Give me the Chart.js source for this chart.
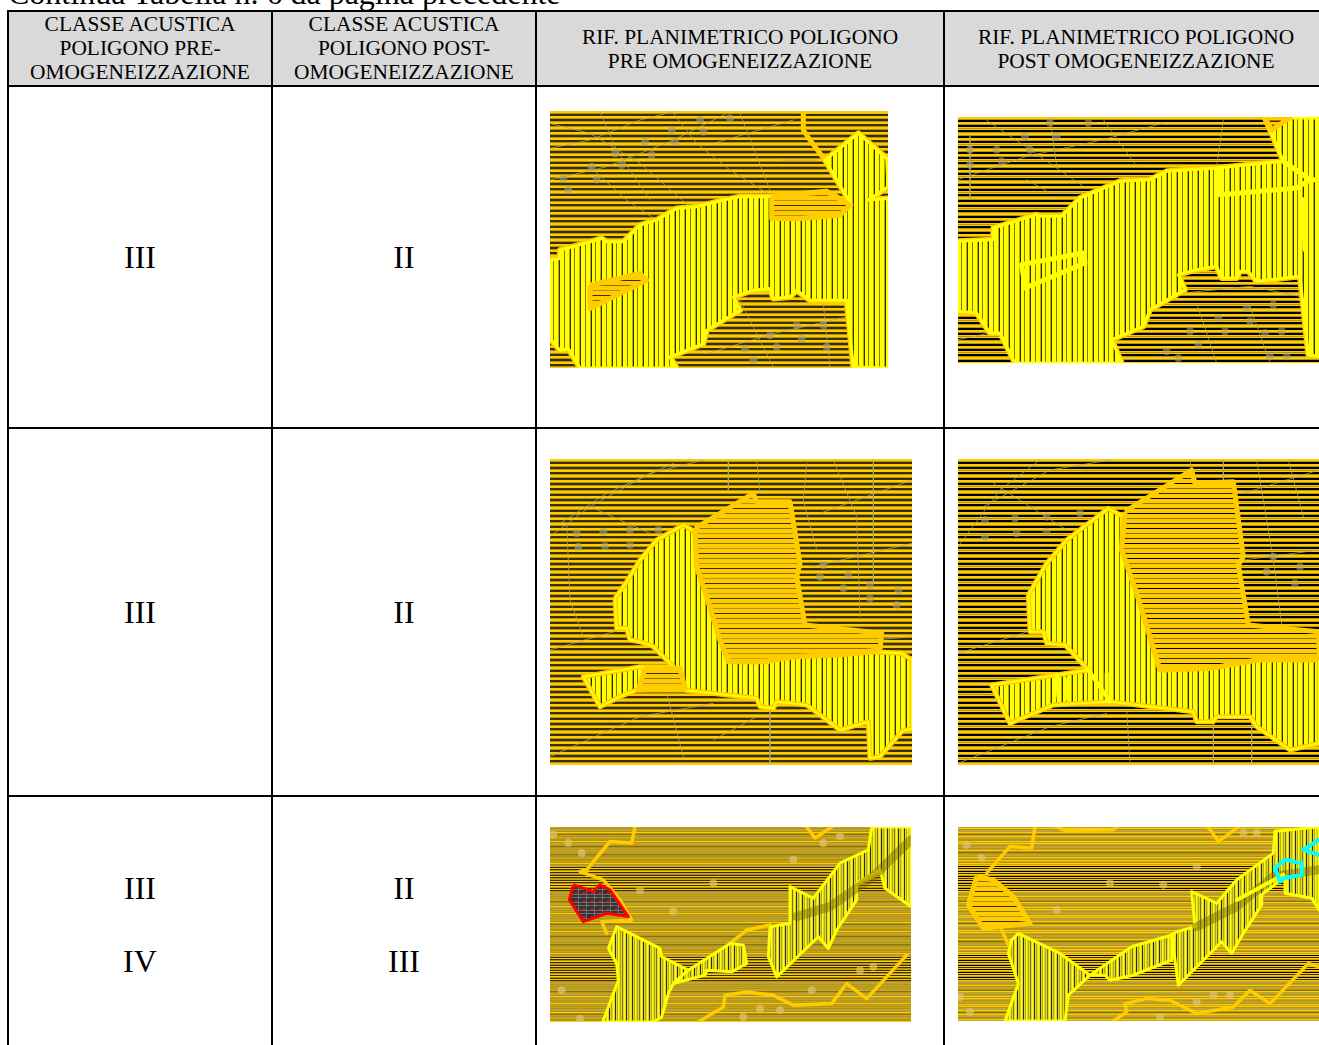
<!DOCTYPE html>
<html>

<head>
    <title>Continua Tabella n. 6</title>
    <script src="https://cdn.jsdelivr.net/npm/chart.js"></script>
    <style>
        html, body {
            margin: 0;
            width: 1319px;
            height: 1045px;
            overflow: hidden;
            background: white;
            font-family: 'Liberation Serif', 'Times New Roman', serif;
            color: #000;
        }

        #caption {
            position: absolute;
            left: 8px;
            top: -23px;
            font-size: 32px;
            line-height: 32px;
            white-space: nowrap;
        }

        table {
            position: absolute;
            left: 7px;
            top: 10px;
            border-collapse: collapse;
            table-layout: fixed;
            width: 1320px;
        }

        td, th {
            border: 2px solid #000;
            padding: 0;
            text-align: center;
            vertical-align: middle;
            font-weight: normal;
        }

        th {
            background: #d9d9d9;
            font-size: 21.4px;
            line-height: 24px;
            height: 73px;
        }

        th.tall {
            padding-bottom: 1px;
            height: 72px;
        }

        td {
            font-size: 32px;
            line-height: 73px;
        }

        canvas {
            position: absolute;
        }
    </style>
</head>

<body>
    <div id="caption">Continua Tabella n. 6 da pagina precedente</div>
    <table>
        <colgroup>
            <col style="width:264px"><col style="width:264px"><col style="width:408px"><col style="width:384px">
        </colgroup>
        <thead><tr id="headRow"></tr></thead>
        <tbody id="rows"></tbody>
    </table>

    <canvas id="map1"></canvas>
    <canvas id="map2"></canvas>
    <canvas id="map3"></canvas>
    <canvas id="map4"></canvas>
    <canvas id="map5"></canvas>
    <canvas id="map6"></canvas>

    <script>
        const headers = [
            'CLASSE ACUSTICA<br>POLIGONO PRE-<br>OMOGENEIZZAZIONE',
            'CLASSE ACUSTICA<br>POLIGONO POST-<br>OMOGENEIZZAZIONE',
            'RIF. PLANIMETRICO POLIGONO<br>PRE OMOGENEIZZAZIONE',
            'RIF. PLANIMETRICO POLIGONO<br>POST OMOGENEIZZAZIONE'
        ];
        const classPre = [['III'], ['III'], ['III', 'IV']];
        const classPost = [['II'], ['II'], ['II', 'III']];

        // map outlines
        const map1Yellow = [[30,480],[60,475],[60,450],[150,425],[185,415],[200,425],[250,425],[300,375],[350,360],[410,325],[470,320],[550,300],[600,290],[690,290],[860,275],[935,315],[855,180],[955,100],[1040,175],[1044,260],[985,300],[1044,295],[1044,803],[940,800],[920,600],[810,600],[770,570],[750,590],[700,595],[690,565],[640,570],[580,590],[600,630],[500,690],[490,730],[390,770],[410,803],[120,803],[85,745],[60,750],[30,715]];
        const map1Holes = [[[695,290],[860,275],[930,315],[900,345],[780,355],[695,355]], [[150,555],[300,520],[320,540],[150,625]]];
        const map1Edge = [[790,35],[790,90],[810,120],[855,180]];
        const map1Top = [[790,35],[1044,35]];
        const map1Web = [[[30,145],[150,120],[300,60],[400,35]], [[30,240],[200,200],[400,120],[560,40]], [[150,200],[260,300],[350,360]], [[400,40],[470,130],[570,210],[700,290]], [[180,35],[230,150],[330,300]], [[30,70],[150,100],[300,190],[450,320]], [[600,600],[700,800]], [[850,610],[870,800]], [[500,760],[700,700],[920,650]], [[600,40],[690,270]], [[720,180],[830,180]], [[520,130],[760,60]]];
        const map1Blobs = [[570,55],[480,60],[395,90],[490,95],[315,125],[405,125],[225,160],[335,165],[155,200],[245,195],[70,235],[170,238],[85,270],[690,705],[785,715],[770,675],[850,675],[615,745],[710,740],[860,740],[640,780]];

        const map2Yellow = [[24,425],[130,420],[130,385],[260,345],[270,350],[335,350],[390,295],[510,245],[600,240],[650,215],[800,205],[1000,185],[960,90],[945,55],[1107,55],[1107,770],[1075,765],[1050,530],[920,545],[895,515],[870,515],[860,535],[815,535],[800,500],[740,510],[685,525],[705,570],[600,630],[580,680],[485,720],[515,790],[195,790],[150,700],[120,700],[80,640],[24,635]];
        const map2Inner = [[[215,495],[400,460],[405,490],[225,565],[215,495]], [[810,215],[810,285],[1040,265],[1080,240]], [[1000,185],[1080,240],[1107,240]], [[1060,300],[1065,450]]];
        const map2Cap = [[945,55],[1020,55],[965,90]];
        const map2Web = [[[24,240],[230,170],[460,120],[640,70]], [[60,110],[60,300]], [[100,55],[240,150],[400,260]], [[230,240],[300,280],[430,280]], [[300,55],[320,200]], [[460,60],[560,200]], [[820,60],[800,200]], [[24,720],[120,700]], [[700,580],[900,560],[1050,590]], [[740,610],[800,790]], [[900,620],[960,790]]];
        const map2Blobs = [[415,70],[300,70],[225,110],[320,110],[60,150],[140,150],[240,150],[155,185],[60,195],[890,625],[970,615],[805,655],[900,665],[720,695],[825,695],[945,700],[995,695],[745,735],[650,755],[960,770],[1010,770],[685,775]];

        const map3Yellow = [[225,445],[260,395],[300,330],[350,270],[430,225],[465,245],[470,350],[500,440],[540,570],[565,635],[680,635],[760,620],[900,615],[1000,605],[1085,610],[1116,630],[1116,835],[1085,845],[1020,920],[990,925],[985,815],[900,840],[800,765],[710,755],[700,775],[660,770],[650,745],[430,720],[290,720],[240,740],[180,770],[130,680],[300,650],[400,650],[340,590],[300,575],[270,570],[260,535],[230,535]];
        const map3Orange = [[465,235],[640,130],[650,155],[750,155],[780,340],[770,380],[795,525],[1025,550],[1020,600],[900,612],[760,620],[680,632],[565,632],[540,570],[500,440],[470,350]];
        const map3Small = [[315,655],[420,655],[435,715],[295,720]];
        const map3Web = [[[30,260],[150,170],[330,70],[490,30]], [[60,220],[200,130],[400,40]], [[150,170],[330,250]], [[565,30],[565,120]], [[650,30],[660,130]], [[800,40],[790,150],[830,300]], [[880,30],[950,200],[960,500]], [[1000,30],[1000,400]], [[30,600],[240,540]], [[30,920],[300,800],[520,760]], [[380,730],[430,920]], [[690,780],[690,940]], [[520,870],[650,800]], [[820,350],[1116,280]], [[1116,560],[1000,570]], [[80,220],[90,450],[130,560]], [[840,190],[1116,90]]];
        const map3Blobs = [[110,250],[190,245],[270,240],[355,240],[115,290],[195,288],[270,285],[850,345],[840,380],[925,375],[910,415],[990,405],[1075,420],[990,445],[1070,465]];

        const map4Yellow = [[235,435],[290,340],[350,270],[475,175],[520,200],[515,300],[560,430],[600,560],[630,660],[780,655],[920,630],[1107,630],[1107,880],[1020,900],[920,830],[900,800],[800,800],[790,815],[740,815],[730,785],[480,755],[310,765],[180,820],[125,705],[320,675],[415,660],[345,585],[290,580],[280,545],[240,545]];
        const map4Orange = [[525,185],[725,60],[735,100],[850,95],[880,320],[865,345],[895,525],[1107,545],[1107,625],[920,630],[780,655],[630,660],[600,560],[560,430],[515,300]];
        const map4Inner = [[[320,675],[325,740]], [[350,690],[350,745]], [[470,670],[470,750]], [[415,660],[480,755]]];
        const map4Web = [[[24,290],[150,120],[270,30]], [[100,170],[300,60],[480,30]], [[130,100],[350,240]], [[720,30],[730,100]], [[820,30],[820,100]], [[920,30],[970,330],[1000,560]], [[1015,30],[1060,200]], [[880,130],[1107,60]], [[24,610],[250,540]], [[24,940],[300,830],[470,790]], [[530,780],[540,940]], [[790,820],[790,940]], [[905,820],[905,940]], [[880,330],[1107,300]]];
        const map4Blobs = [[105,210],[195,205],[290,200],[390,190],[105,260],[200,250],[290,245],[970,320],[1050,350],[950,365],[1035,400]];

        const map5YellowA = [[205,385],[230,320],[360,385],[365,410],[445,450],[400,490],[385,520],[365,590],[340,605],[188,605],[235,480],[230,430]];
        const map5YellowB = [[445,450],[570,370],[610,375],[620,430],[575,455],[500,450],[495,465],[400,490]];
        const map5YellowC = [[690,320],[750,310],[750,200],[820,235],[900,130],[985,90],[995,22],[1113,22],[1113,260],[1035,205],[1020,150],[950,190],[950,240],[890,330],[865,385],[835,350],[710,470],[685,410]];
        const map5Red = [[100,195],[160,215],[180,195],[210,210],[265,290],[200,280],[130,305],[88,240]];
        const map5Edges = [[[285,22],[275,70],[210,65],[140,150],[120,155],[190,180],[240,240],[275,300],[185,305],[200,340]], [[475,605],[550,560],[555,525],[620,515],[700,525],[760,555],[875,550],[920,490],[980,535],[1100,405]], [[800,22],[825,55],[875,22]], [[1075,115],[1020,105],[900,220],[1070,135],[1075,115]], [[690,315],[620,330],[570,370]]];
        const map5Band = [[770,290],[870,260],[1000,170],[1113,60]];
        const map5Blobs = [[40,45],[85,70],[125,100],[65,510],[120,595],[760,120],[520,190],[400,275],[1000,440],[815,510],[660,565],[610,590],[720,570],[900,50],[850,70],[300,210],[960,450]];

        const map6YellowA = [[205,340],[330,400],[420,465],[355,525],[345,602],[165,602],[205,490],[175,400],[185,360]];
        const map6YellowB = [[420,465],[545,380],[665,345],[665,420],[600,445],[550,465],[480,480],[465,465]];
        const map6YellowC = [[680,335],[735,320],[725,215],[800,250],[860,180],[970,100],[975,35],[1107,22],[1107,270],[1085,235],[1005,220],[1005,170],[935,225],[935,255],[880,340],[845,400],[815,365],[685,495],[665,345]];
        const map6Pent = [[80,170],[130,180],[190,230],[240,310],[100,325],[55,255]];
        const map6Edges = [[[255,22],[245,85],[180,80],[110,160]], [[320,22],[345,32],[490,30],[500,22]], [[775,22],[805,65],[865,22]], [[490,602],[530,575],[525,550],[590,535],[660,540],[740,580],[850,560],[900,510],[960,550],[1075,430],[1107,440]], [[155,330],[175,375],[185,360]]];
        const map6Rail = [[860,240],[1000,165]];
        const map6Band = [[740,320],[860,260],[970,170],[1107,150]];
        const map6CyanA = [[975,145],[1005,120],[1055,130],[1055,165],[1000,175],[990,185],[975,145]];
        const map6CyanB = [[1107,60],[1060,90],[1107,105]];
        const map6Blobs = [[50,75],[95,115],[30,530],[60,575],[740,140],[640,195],[480,190],[320,270],[740,545],[840,525],[630,590],[790,525],[880,40],[920,40]];

        // row colours for the hatching, one letter per pixel
        const inks = { g: '#ffcc00', y: '#ffff00', b: '#b49410', k: '#3a2e00', n: '#000000', o: '#8a7400', c: '#c4a420', e: '#b8a450', v: '#b0b000', d: '#2c2c00', p: '#dcd438' };
        const hatchBrown = 'ggbkkggbkkbggkkb';
        const hatchBlack = 'ggbnnggbnngbgnnb';
        const hatchFine = 'cbecbgbocbecbbgbcebobcbecbcobbecbbcbgbcekgkbgkcbkgkbckgkbgkgbkgkbecbcbcbecobcebgcbebcbgbcb';
        const hatchFineBlack = 'cgbecgbocgcebbgcgcbcebcgbobcebgcbgcbgcgngkgcngkgcngkgngcngkgcngkgcebcgbecbogcebcgbgcbecbg';
        const hatchTone = 'ggggkggggoggggb';
        const hatchToneBlack = 'ggggdggggnggggo';
        const stripeYellow = 'yyyoyyyyvkyyyyoyyyyvd';
        const stripeFine = 'ypvpopypdpvpypkpv';

        function hatch(rows, vertical) {
            const tile = document.createElement('canvas');
            tile.width = vertical ? rows.length : 1;
            tile.height = vertical ? 1 : rows.length;
            const c = tile.getContext('2d');
            [...rows].forEach((ch, i) => {
                c.fillStyle = inks[ch];
                if (vertical) c.fillRect(i, 0, 1, 1); else c.fillRect(0, i, 1, 1);
            });
            return c.createPattern(tile, 'repeat');
        }

        function dotted() {
            const tile = document.createElement('canvas');
            tile.width = tile.height = 8;
            const c = tile.getContext('2d');
            c.fillStyle = '#333';
            c.fillRect(0, 0, 8, 8);
            c.fillStyle = '#707070';
            c.fillRect(0, 3, 8, 1);
            c.fillRect(0, 6, 8, 1);
            c.fillRect(4, 0, 1, 8);
            c.fillStyle = '#e01010';
            c.fillRect(1, 1, 2, 2);
            return c.createPattern(tile, 'repeat');
        }

        const toPoints = list => list.map(([x, y]) => ({ x, y }));
        const closed = list => list.concat([list[0]]);

        function area(list, fillStyle, color, width) {
            return {
                data: toPoints(closed(list)), showLine: true, pointRadius: 0, tension: 0,
                fill: 'shape', backgroundColor: fillStyle,
                borderColor: color || 'transparent', borderWidth: width || 0, borderJoinStyle: 'round'
            };
        }
        function line(list, color, width) {
            return {
                data: toPoints(list), showLine: true, pointRadius: 0, tension: 0, fill: false,
                borderColor: color, borderWidth: width, borderJoinStyle: 'round', borderCapStyle: 'round'
            };
        }
        function blobs(list, color) {
            return { data: toPoints(list), showLine: false, pointRadius: 4, pointBorderWidth: 0, pointBackgroundColor: color };
        }

        function drawMap(id, box, range, layers) {
            const canvas = document.getElementById(id);
            canvas.style.left = box.left + 'px';
            canvas.style.top = box.top + 'px';
            canvas.width = box.width;
            canvas.height = box.height;
            const frame = [[range.x0, range.y0], [range.x1, range.y0], [range.x1, range.y1], [range.x0, range.y1]];
            const sets = [area(frame, box.ground)].concat(layers);
            sets.forEach((s, i) => { s.order = sets.length - i; });
            return new Chart(canvas, {
                type: 'scatter',
                data: { datasets: sets },
                options: {
                    responsive: false, animation: false, devicePixelRatio: 1, events: [],
                    layout: { padding: 0, autoPadding: false },
                    plugins: { legend: { display: false }, tooltip: { enabled: false } },
                    scales: {
                        x: { type: 'linear', display: false, min: range.x0, max: range.x1 },
                        y: { type: 'linear', display: false, reverse: true, min: range.y0, max: range.y1 }
                    }
                }
            });
        }

        // table
        document.getElementById('headRow').innerHTML = headers.map((h, i) => `<th${i < 2 ? ' class="tall"' : ''}>${h}</th>`).join('');
        const rowHeights = [342, 368, 257];
        document.getElementById('rows').innerHTML = classPre.map((pre, i) =>
            `<tr style="height:${rowHeights[i]}px"><td>${pre.join('<br>')}</td><td>${classPost[i].join('<br>')}</td><td></td><td></td></tr>`
        ).join('');

        // maps
        const yellowFill = hatch(stripeYellow, true);
        const fineFill = hatch(stripeFine, true);
        const toneFill = hatch(hatchTone);
        const toneBlack = hatch(hatchToneBlack);
        const webColor = 'rgba(176,168,130,0.75)';
        const blobColor = 'rgba(170,160,120,0.6)';
        const beige = 'rgba(222,196,110,0.7)';
        const halo = (list, fillStyle) => [line(closed(list), '#ffcc00', 6), area(list, fillStyle, '#ffff00', 3)];
        const orangeArea = (list, fillStyle) => area(list, fillStyle, '#ffcc00', 5);

        drawMap('map1', { left: 550, top: 111, width: 338, height: 257, ground: hatch(hatchBrown) }, { x0: 30, x1: 1044, y0: 33, y1: 803 }, [
            ...map1Web.map(w => line(w, webColor, 1)),
            blobs(map1Blobs, blobColor),
            line(map1Edge, '#ffcc00', 5),
            line(map1Top, '#ffcc00', 4),
            ...halo(map1Yellow, yellowFill),
            ...map1Holes.map(h => orangeArea(h, toneFill))
        ]);

        drawMap('map2', { left: 958, top: 117, width: 361, height: 246, ground: hatch(hatchBlack) }, { x0: 24, x1: 1107, y0: 52, y1: 790 }, [
            ...map2Web.map(w => line(w, webColor, 1)),
            blobs(map2Blobs, blobColor),
            ...halo(map2Yellow, yellowFill),
            orangeArea(map2Cap, hatch(hatchBrown)),
            ...map2Inner.map(w => line(w, '#ffff00', 5))
        ]);

        drawMap('map3', { left: 550, top: 459, width: 362, height: 306, ground: hatch(hatchBrown) }, { x0: 30, x1: 1116, y0: 27, y1: 945 }, [
            ...map3Web.map(w => line(w, webColor, 1)),
            blobs(map3Blobs, blobColor),
            area(map3Yellow, yellowFill, '#ffcc00', 5),
            line(closed(map3Yellow), '#ffff00', 2),
            orangeArea(map3Orange, toneFill),
            orangeArea(map3Small, toneFill)
        ]);

        drawMap('map4', { left: 958, top: 459, width: 361, height: 306, ground: hatch(hatchBlack) }, { x0: 24, x1: 1107, y0: 27, y1: 945 }, [
            ...map4Web.map(w => line(w, webColor, 1)),
            blobs(map4Blobs, blobColor),
            area(map4Yellow, yellowFill, '#ffcc00', 5),
            line(closed(map4Yellow), '#ffff00', 2),
            ...map4Inner.map(w => line(w, '#ffff00', 4)),
            orangeArea(map4Orange, toneBlack)
        ]);

        drawMap('map5', { left: 550, top: 827, width: 361, height: 195, ground: hatch(hatchFine) }, { x0: 30, x1: 1113, y0: 22, y1: 605 }, [
            blobs(map5Blobs, beige),
            ...map5Edges.map(w => line(w, '#ffcc00', 3.5)),
            area(map5YellowA, fineFill, '#ffff00', 3),
            area(map5YellowB, fineFill, '#ffff00', 3),
            area(map5YellowC, fineFill, '#ffff00', 3),
            line(map5Band, 'rgba(110,100,0,0.45)', 9),
            area(map5Red, dotted(), '#ff0000', 3)
        ]);

        drawMap('map6', { left: 958, top: 827, width: 361, height: 194, ground: hatch(hatchFineBlack) }, { x0: 24, x1: 1107, y0: 22, y1: 602 }, [
            blobs(map6Blobs, beige),
            ...map6Edges.map(w => line(w, '#ffcc00', 3.5)),
            orangeArea(map6Pent, toneFill),
            area(map6YellowA, fineFill, '#ffff00', 3),
            area(map6YellowB, fineFill, '#ffff00', 3),
            area(map6YellowC, fineFill, '#ffff00', 3),
            line(map6Band, 'rgba(110,100,0,0.45)', 9),
            line(map6Rail, '#ffff00', 4),
            line(map6CyanA, '#00ffff', 4),
            line(map6CyanB, '#00ffff', 4)
        ]);
    </script>
</body>

</html>
